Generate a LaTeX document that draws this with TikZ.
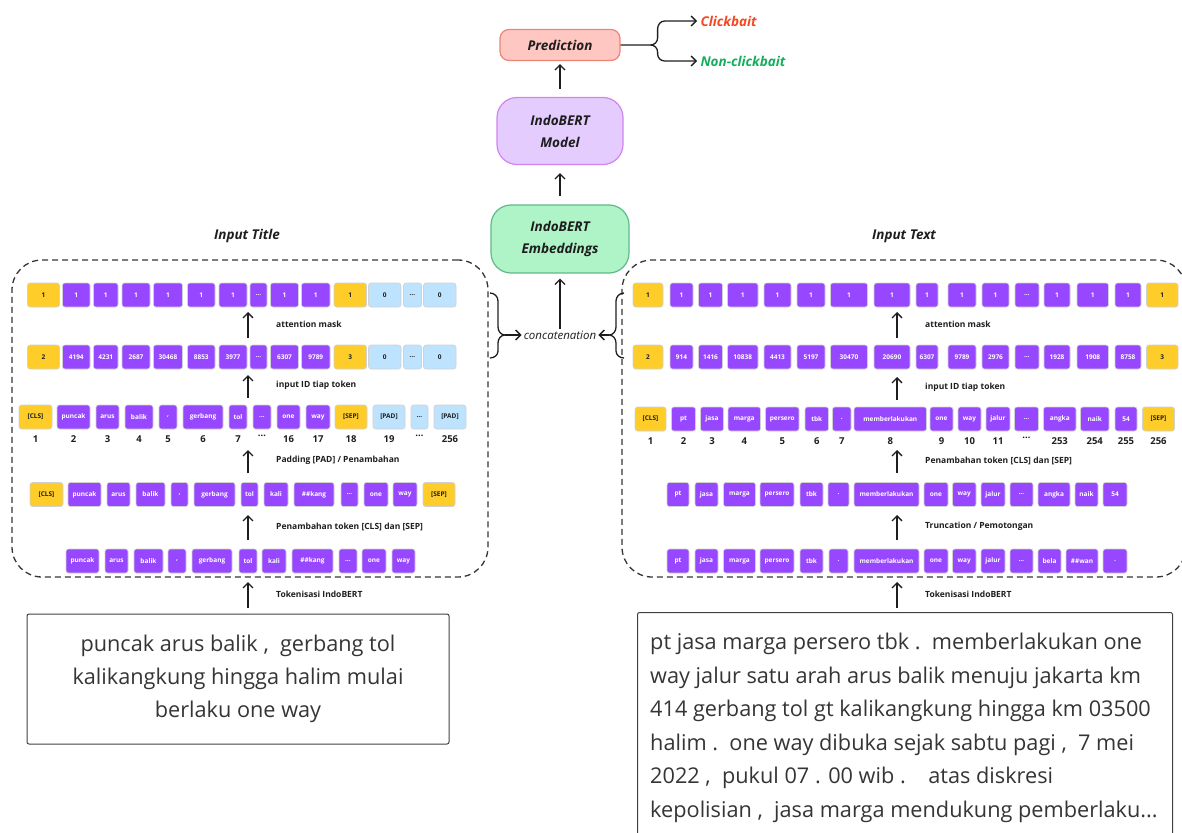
\documentclass[tikz,border=0pt]{standalone}
\usepackage{fontspec}
\setmainfont{Open Sans}
\usetikzlibrary{arrows.meta,calc,positioning}

\definecolor{tokpurple}{HTML}{9747FF}
\definecolor{tokyellow}{HTML}{FFCD29}
\definecolor{tokblue}{HTML}{BDE3FF}
\definecolor{inkdark}{HTML}{1E1E1E}
\definecolor{predfill}{HTML}{FFC7C2}
\definecolor{preddraw}{HTML}{EE8377}
\definecolor{modelfill}{HTML}{E4CCFF}
\definecolor{modeldraw}{HTML}{D283F0}
\definecolor{embfill}{HTML}{AFF4C6}
\definecolor{embdraw}{HTML}{5FB98A}
\definecolor{cbred}{HTML}{F24822}
\definecolor{ncbgreen}{HTML}{14AE5C}

\begin{document}
\begin{tikzpicture}[x=1pt,y=-1pt]

  \useasboundingbox (0,0) rectangle (1182,832);
  \clip (0,0) rectangle (1182,832);

  % Styles
  \tikzstyle{tok}=[draw=black!18,line width=0.6pt,rounded corners=2.5pt,minimum height=24pt,inner sep=0pt,font=\fontsize{6.5}{8}\selectfont\bfseries]
  \tikzstyle{pur}=[fill=tokpurple,text=white]
  \tikzstyle{yel}=[fill=tokyellow,text=inkdark]
  \tikzstyle{blu}=[fill=tokblue,text=inkdark]
  \tikzstyle{num}=[inner sep=0pt,font=\fontsize{9.5}{11}\selectfont\bfseries,text=inkdark]
  \tikzstyle{steplbl}=[inner sep=0pt,font=\fontsize{8.5}{10}\selectfont\bfseries,text=inkdark]
  \tikzstyle{uparrow}=[-{Straight Barb[length=5pt,width=10pt]},line width=1.3pt,inkdark]
  \tikzstyle{bracket}=[line width=1.3pt,inkdark]
  \tikzstyle{panel}=[draw=inkdark!90,dash pattern=on 6pt off 4pt,line width=1.3pt,rounded corners=30pt]
  \tikzstyle{inbox}=[draw=inkdark!85,line width=1pt,rounded corners=2pt,text=inkdark!90,font=\fontsize{21.7}{33}\selectfont]
  \tikzstyle{ttl}=[font=\fontsize{13.5}{16}\selectfont\bfseries\itshape,text=inkdark]
  \tikzstyle{stagebox}=[line width=1.2pt,rounded corners=10pt,align=center,font=\fontsize{13.5}{22}\selectfont\bfseries\itshape,text=inkdark]

  % \tokrow{<name>}{<y>}{<xl/xr/label/style list>}
  \DeclareDocumentCommand \tokrow { m m m }{%
    \foreach \xl/\xr/\lbl/\sty [count=\i] in {#3}
      \node[tok,\sty,minimum width={(\xr-\xl)*1pt}] (#1-\i) at ({(\xl+\xr)/2},#2) {\lbl};
  }

  % \tokrownum{<name>}{<y>}{<xl/xr/label/style/number list>}
  \DeclareDocumentCommand \tokrownum { m m m }{%
    \foreach \xl/\xr/\lbl/\sty/\nm [count=\i] in {#3}{
      \node[tok,\sty,minimum width={(\xr-\xl)*1pt}] (#1-\i) at ({(\xl+\xr)/2},#2) {\lbl};
      \node[num,below=6pt of #1-\i] (#1-n\i) {\nm};
    }
  }

  % \stage{<name>}{<x>}{<y-from>}{<y-to>}{<label>}
  \DeclareDocumentCommand \stage { m m m m m }{%
    \coordinate (#1-s) at (#2,#3);
    \coordinate (#1-e) at (#2,#4);
    \draw[uparrow] (#1-s) -- (#1-e);
    \node[steplbl,anchor=west] (#1-lbl) at ($(#1-s)!0.5!(#1-e)+(28,-1)$) {#5};
  }

  % ===========================================================================

  % Panels
  \node[panel,minimum width=476pt,minimum height=317pt] (titlepanel) at (250,418.5) {};
  \node[panel,minimum width=564pt,minimum height=317pt] (textpanel) at (904,418.5) {};
  \node[ttl] (titlelbl) at (247,236) {Input Title};
  \node[ttl] (textlbl) at (904,236) {Input Text};

  % Input Title tokens
  \tokrow{lA}{295}{27.5/59.5/1/yel, 62.5/90/1/pur, 93.5/118/1/pur, 122/150/1/pur, 153.5/182.5/1/pur, 187.5/215/1/pur, 219/247/1/pur, 250/267/\ldots/pur, 270.5/298.5/1/pur, 301.5/330/1/pur, 334/366.5/1/yel, 368.5/401/0/blu, 403.5/421.5/\ldots/blu, 423.5/456/0/blu}
  \tokrow{lB}{357}{27.5/59.5/2/yel, 62.5/90/4194/pur, 93.5/118/4231/pur, 122/150/2687/pur, 153.5/182.5/30468/pur, 187.5/215/8853/pur, 219/247/3977/pur, 250/267/\ldots/pur, 270.5/298.5/6307/pur, 301.5/330/9789/pur, 334/366.5/3/yel, 368.5/401/0/blu, 403.5/421.5/\ldots/blu, 423.5/456/0/blu}
  \tokrownum{lC}{417}{19/52/[CLS]/yel/1, 57/90/puncak/pur/2, 96/119/arus/pur/3, 125/153/balik/pur/4, 159/177/{,}/pur/5, 183/223/gerbang/pur/6, 229/247/tol/pur/7, 253/271/\ldots/pur/\ldots, 277/300/one/pur/16, 306/330/way/pur/17, 335/367/[SEP]/yel/18, 373/405/[PAD]/blu/19, 411/428/\ldots/blu/\ldots, 434/466/[PAD]/blu/256}
  \tokrow{lD}{494.5}{30/63/[CLS]/yel, 68/101/puncak/pur, 107/130/arus/pur, 136/165/balik/pur, 171/188/{,}/pur, 194/235/gerbang/pur, 241/258/tol/pur, 264/288/kali/pur, 294/334/\#\#kang/pur, 341/358/\ldots/pur, 364/388/one/pur, 393/417/way/pur, 423/455/[SEP]/yel}
  \tokrow{lE}{561}{66/99/puncak/pur, 105/128/arus/pur, 134/163/balik/pur, 168/186/{,}/pur, 192/232/gerbang/pur, 239/257/tol/pur, 262/286/kali/pur, 292/333/\#\#kang/pur, 339/357/\ldots/pur, 362/386/one/pur, 392/415/way/pur}

  % Input Text tokens
  \tokrow{rA}{295}{633/663/1/yel, 670/693/1/pur, 698.5/722.5/1/pur, 727.5/758/1/pur, 764/791/1/pur, 797/825/1/pur, 830.5/867.5/1/pur, 874/910/1/pur, 916/938/1/pur, 948/976/1/pur, 982/1009/1/pur, 1015/1039/\ldots/pur, 1044/1070/1/pur, 1077/1108.5/1/pur, 1115/1141/1/pur, 1146.5/1178/1/yel}
  \tokrow{rB}{357}{633/663/2/yel, 670/693/914/pur, 698.5/722.5/1416/pur, 727.5/758/10838/pur, 764/791/4413/pur, 797/825/5197/pur, 830.5/867.5/30470/pur, 874/910/20690/pur, 916/938/6307/pur, 948/976/9789/pur, 982/1009/2976/pur, 1015/1039/\ldots/pur, 1044/1070/1928/pur, 1077/1108.5/1908/pur, 1115/1141/8758/pur, 1146.5/1178/3/yel}
  \tokrownum{rC}{419}{635/666/[CLS]/yel/1, 671.5/695.5/pt/pur/2, 700.5/723.5/jasa/pur/3, 728/760.5/marga/pur/4, 765.5/799/persero/pur/5, 805/828.5/tbk/pur/6, 832.5/851/./pur/7, 854/926.5/memberlakukan/pur/8, 930/953/one/pur/9, 958/981/way/pur/10, 986/1010/jalur/pur/11, 1014.5/1038.5/\ldots/pur/\ldots, 1043.5/1076/angka/pur/253, 1080.5/1109/naik/pur/254, 1115/1137/54/pur/255, 1142.5/1174.5/[SEP]/yel/256}
  \tokrow{rD}{494.5}{667/689/pt/pur, 695/718/jasa/pur, 723.5/755.5/marga/pur, 760/794/persero/pur, 800/823/tbk/pur, 828/849/./pur, 854/919/memberlakukan/pur, 924/948/one/pur, 952.5/976/way/pur, 981/1005/jalur/pur, 1010/1033/\ldots/pur, 1038/1070/angka/pur, 1075/1098/naik/pur, 1103/1127/54/pur}
  \tokrow{rE}{561}{667/689/pt/pur, 695/718/jasa/pur, 723.5/755.5/marga/pur, 760/794/persero/pur, 800/823/tbk/pur, 829/848/./pur, 854/919/memberlakukan/pur, 924/948/one/pur, 952.5/976/way/pur, 981/1005/jalur/pur, 1010/1033/\ldots/pur, 1038/1061/bela/pur, 1066/1098/\#\#wan/pur, 1103/1127/./pur}

  % Steps
  \stage{lt1}{248}{608}{582}{Tokenisasi IndoBERT}
  \stage{lt2}{248}{540}{515}{Penambahan token [CLS] dan [SEP]}
  \stage{lt3}{248}{473}{450}{Padding [PAD] / Penambahan}
  \stage{lt4}{248}{398}{375}{input ID tiap token}
  \stage{lt5}{248}{338}{312}{attention mask}
  \stage{rt1}{897}{608}{582}{Tokenisasi IndoBERT}
  \stage{rt2}{897}{540}{515}{Truncation / Pemotongan}
  \stage{rt3}{897}{473}{450}{Penambahan token [CLS] dan [SEP]}
  \stage{rt4}{897}{400}{377}{input ID tiap token}
  \stage{rt5}{897}{338}{312}{attention mask}

  % Raw inputs
  \node[inbox,minimum width=422pt,minimum height=130pt,align=center] (titlebox) at (238,679)
    {puncak arus balik ,\ \ gerbang tol\\kalikangkung hingga halim mulai\\berlaku one way};
  \node[inbox,anchor=north west,minimum width=535pt,minimum height=240pt] (textbox) at (637,612) {};
  \node[anchor=north west,align=left,inner sep=0pt,text=inkdark!90,font=\fontsize{21.7}{33.5}\selectfont] (textbody) at (650,633)
    {pt jasa marga persero tbk .\ \ memberlakukan one\\
     way jalur satu arah arus balik menuju jakarta km\\
     414 gerbang tol gt kalikangkung hingga km 03500\\
     halim .\ \ one way dibuka sejak sabtu pagi ,\ \ 7 mei\\
     2022 ,\ \ pukul 07 . 00 wib .\ \ \ \ atas diskresi\\
     kepolisian ,\ \ jasa marga mendukung pemberlaku...};

  % Concatenation
  \node[inner sep=2pt,font=\fontsize{11.5}{14}\selectfont\itshape,text=inkdark] (concat) at (560,335) {concatenation};
  \draw[bracket] (490,293) to[out=0,in=90] (498,301) -- (498,327) to[out=-90,in=180] (505,335)
    to[out=180,in=90] (498,343) -- (498,351) to[out=-90,in=0] (490,358);
  \draw[bracket] (624,293) to[out=180,in=90] (616,301) -- (616,327) to[out=-90,in=0] (609,335)
    to[out=0,in=90] (616,343) -- (616,351) to[out=-90,in=180] (624,358);
  \coordinate (lbrace) at (505,335);
  \coordinate (rbrace) at (609,335);
  \draw[uparrow] (lbrace) -- (concat.west);
  \draw[uparrow] (rbrace) -- (concat.east);

  % Model stack
  \node[stagebox,draw=embdraw,fill=embfill,minimum width=138pt,minimum height=68pt,rounded corners=20pt] (emb) at (560,239) {IndoBERT\\Embeddings};
  \node[stagebox,draw=modeldraw,fill=modelfill,minimum width=126pt,minimum height=67pt,rounded corners=20pt] (model) at (560,131) {IndoBERT\\Model};
  \node[stagebox,draw=preddraw,fill=predfill,minimum width=120pt,minimum height=31pt,rounded corners=9pt] (pred) at (560,45) {Prediction};
  \draw[uparrow,shorten >=5pt] (concat.north) -- (emb.south);
  \draw[uparrow,shorten <=8pt,shorten >=8pt] (emb.north) -- (model.south);
  \draw[uparrow,shorten <=8pt,shorten >=3pt] (model.north) -- (pred.south);

  % Outputs
  \node[ttl,anchor=west,text=cbred] (cb) at (697,21) {Clickbait};
  \node[ttl,anchor=west,text=ncbgreen] (ncb) at (697,61) {Non-clickbait};
  \coordinate (fork) at ($(pred.east)+(30,0)$);
  \draw[uparrow] (pred.east) -- (fork) to[out=0,in=-90] ++(7,-7) -- ++(0,-9) to[out=90,in=180] ++(7,-8) -- (cb.west);
  \draw[uparrow] (fork) to[out=0,in=90] ++(7,7) -- ++(0,2) to[out=-90,in=180] ++(7,7) -- (ncb.west);

\end{tikzpicture}
\end{document}
